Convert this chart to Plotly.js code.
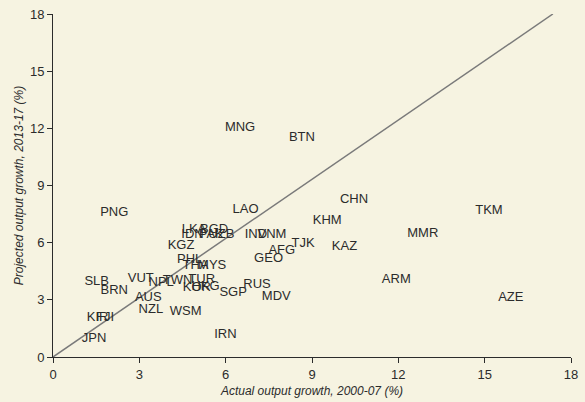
<!DOCTYPE html>
<html>
<head>
<meta charset="utf-8">
<script src="https://cdn.plot.ly/plotly-3.0.1.min.js"></script>
<style>html,body{margin:0;padding:0;background:#f6f3e1;}#chart{width:585px;height:402px;}</style>
</head>
<body>
<div id="chart"></div>
<script>
// Economy codes
const codes = ["MNG","BTN","LAO","CHN","KHM","KAZ","TJK","AFG","GEO","IND","VNM","MMR","TKM","ARM","AZE","MDV","RUS","SGP","IRN","WSM","NZL","AUS","VUT","NPL","TWN","TUR","KOR","HKG","PHL","THA","MYS","KGZ","LKA","BGD","IDN","PAK","UZB","PNG","SLB","BRN","KIR","FJI","JPN"];
// Actual output growth, 2000-07 (%)
const actual = [6.5,8.65,6.69,10.46,9.53,10.13,8.69,7.95,7.49,7.05,7.61,12.85,15.15,11.93,15.91,7.76,7.09,6.26,5.99,4.61,3.40,3.31,3.05,3.76,4.33,5.17,5.0,5.3,4.75,4.95,5.53,4.45,4.9,5.6,4.85,5.5,5.85,2.13,1.52,2.13,1.55,1.81,1.43];
// Projected output growth, 2013-17 (%)
const projected = [12.03,11.49,7.73,8.25,7.14,5.79,5.95,5.59,5.18,6.42,6.42,6.47,7.70,4.06,3.13,3.17,3.80,3.38,1.18,2.36,2.46,3.10,4.11,3.89,3.99,4.06,3.65,3.7,5.1,4.8,4.8,5.85,6.7,6.7,6.4,6.4,6.4,7.58,3.93,3.47,2.05,2.05,0.96];
// Reference line as drawn
const refX = [0,17.37];
const refY = [0,18];
const tickVals = [0,3,6,9,12,15,18];

const ink = '#2b2b2b';
const bg = '#f6f3e1';

const traces = [
  {x: refX, y: refY, mode: 'lines', line: {color: '#7a7a7a', width: 1.5}, hoverinfo: 'skip', showlegend: false},
  {x: actual, y: projected, mode: 'text', text: codes, textposition: 'middle center',
   textfont: {family: 'Liberation Sans, Arial, sans-serif', size: 13, color: ink},
   cliponaxis: false, showlegend: false}
];

const axisCommon = {
  range: [0,18], tickvals: tickVals, ticktext: tickVals.map(String),
  showgrid: false, zeroline: false, showline: true, linecolor: ink, linewidth: 1,
  ticks: 'outside', ticklen: 5, tickcolor: ink, tickwidth: 1,
  tickfont: {family: 'Liberation Sans, Arial, sans-serif', size: 13, color: ink},
  fixedrange: true
};

const layout = {
  width: 585, height: 402, autosize: false,
  margin: {l: 53, r: 14, t: 14, b: 45},
  paper_bgcolor: bg, plot_bgcolor: bg,
  xaxis: Object.assign({}, axisCommon, {
    title: {text: '<i>Actual output growth, 2000-07 (%)</i>', standoff: 6,
      font: {family: 'Liberation Sans, Arial, sans-serif', size: 12, color: ink}}
  }),
  yaxis: Object.assign({}, axisCommon, {
    title: {text: '<i>Projected output growth, 2013-17 (%)</i>', standoff: 3,
      font: {family: 'Liberation Sans, Arial, sans-serif', size: 12, color: ink}}
  }),
  showlegend: false
};

Plotly.newPlot('chart', traces, layout, {displayModeBar: false, staticPlot: true});
</script>
</body>
</html>
